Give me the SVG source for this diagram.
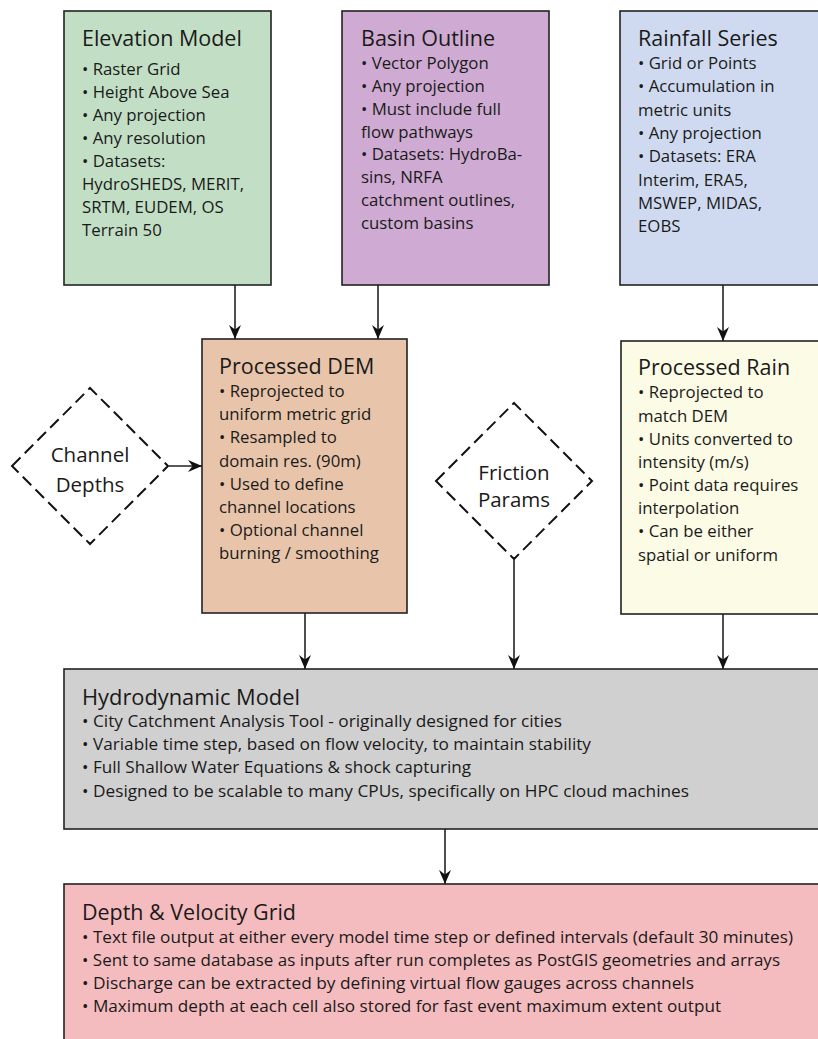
<svg xmlns="http://www.w3.org/2000/svg" width="818" height="1039" viewBox="0 0 818 1039">
  <style>
    .box { stroke: #222; stroke-width: 1.6; }
    .diamond { fill: #fff; stroke: #111; stroke-width: 2; stroke-dasharray: 12 6; }
    .title { font-family: "Open Sans", "Liberation Sans", sans-serif; font-size: 21.5px; fill: #1a1a1a; }
    .body { font-family: "Open Sans", "Liberation Sans", sans-serif; font-size: 16.8px; fill: #1a1a1a; }
    .small { font-family: "Open Sans", "Liberation Sans", sans-serif; font-size: 15.5px; fill: #1a1a1a; }
    .dlabel { font-family: "Open Sans", "Liberation Sans", sans-serif; font-size: 20.5px; fill: #1a1a1a; text-anchor: middle; }
    .conn { stroke: #222; stroke-width: 1.6; fill: none; marker-end: url(#arrow); }
  </style>
  <defs>
    <!-- barbed arrowhead shared by every connector -->
    <marker id="arrow" markerUnits="userSpaceOnUse" viewBox="0 0 14 12" refX="14" refY="6" markerWidth="14" markerHeight="12" orient="auto">
      <path d="M0,0 L14,6 L0,12 L4.5,6 z" fill="#111"/>
    </marker>
  </defs>
  <rect width="818" height="1039" fill="#fff"/>

  <g id="elevation-model">
    <rect class="box" x="64" y="11" width="207" height="274" fill="#c2dfc5"/>
    <text class="title" x="82" y="46">Elevation Model</text>
    <text class="body" x="82" y="75">• Raster Grid</text>
    <text class="body" x="82" y="98">• Height Above Sea</text>
    <text class="body" x="82" y="121">• Any projection</text>
    <text class="body" x="82" y="144">• Any resolution</text>
    <text class="body" x="82" y="167">• Datasets:</text>
    <text class="body" x="82" y="190">HydroSHEDS, MERIT,</text>
    <text class="body" x="82" y="213">SRTM, EUDEM, OS</text>
    <text class="body" x="82" y="236">Terrain 50</text>
  </g>

  <g id="basin-outline">
    <rect class="box" x="342" y="11" width="207" height="274" fill="#cfabd3"/>
    <text class="title" x="361" y="46">Basin Outline</text>
    <text class="body" x="361" y="69">• Vector Polygon</text>
    <text class="body" x="361" y="92">• Any projection</text>
    <text class="body" x="361" y="115">• Must include full</text>
    <text class="body" x="361" y="138">flow pathways</text>
    <text class="body" x="361" y="160">• Datasets: HydroBa-</text>
    <text class="body" x="361" y="183">sins, NRFA</text>
    <text class="body" x="361" y="206">catchment outlines,</text>
    <text class="body" x="361" y="229">custom basins</text>
  </g>

  <g id="rainfall-series">
    <rect class="box" x="620" y="11" width="220" height="274" fill="#cfdaf0"/>
    <text class="title" x="638" y="46">Rainfall Series</text>
    <text class="body" x="638" y="69">• Grid or Points</text>
    <text class="body" x="638" y="92">• Accumulation in</text>
    <text class="body" x="638" y="116">metric units</text>
    <text class="body" x="638" y="139">• Any projection</text>
    <text class="body" x="638" y="162">• Datasets: ERA</text>
    <text class="body" x="638" y="186">Interim, ERA5,</text>
    <text class="body" x="638" y="209">MSWEP, MIDAS,</text>
    <text class="body" x="638" y="232">EOBS</text>
  </g>

  <g id="processed-dem">
    <rect class="box" x="202" y="339" width="205" height="274" fill="#e8c5aa"/>
    <text class="title" x="219" y="374">Processed DEM</text>
    <text class="body" x="219" y="397">• Reprojected to</text>
    <text class="body" x="219" y="420">uniform metric grid</text>
    <text class="body" x="219" y="443">• Resampled to</text>
    <text class="body" x="219" y="467">domain res. (90m)</text>
    <text class="body" x="219" y="490">• Used to define</text>
    <text class="body" x="219" y="513">channel locations</text>
    <text class="body" x="219" y="536">• Optional channel</text>
    <text class="body" x="219" y="559">burning / smoothing</text>
  </g>

  <g id="processed-rain">
    <rect class="box" x="621" y="341" width="220" height="273" fill="#fcfbe5"/>
    <text class="title" x="638" y="375">Processed Rain</text>
    <text class="body" x="638" y="398">• Reprojected to</text>
    <text class="body" x="638" y="422">match DEM</text>
    <text class="body" x="638" y="445">• Units converted to</text>
    <text class="body" x="638" y="468">intensity (m/s)</text>
    <text class="body" x="638" y="491">• Point data requires</text>
    <text class="body" x="638" y="514">interpolation</text>
    <text class="body" x="638" y="537">• Can be either</text>
    <text class="body" x="638" y="561">spatial or uniform</text>
  </g>

  <g id="channel-depths">
    <polygon class="diamond" points="12,466 90,388 168,466 90,544"/>
    <text class="dlabel" x="90" y="462">Channel</text>
    <text class="dlabel" x="90" y="492">Depths</text>
  </g>

  <g id="friction-params">
    <polygon class="diamond" points="436,481 514,403 592,481 514,559"/>
    <text class="dlabel" x="514" y="480">Friction</text>
    <text class="dlabel" x="514" y="507">Params</text>
  </g>

  <g id="hydrodynamic-model">
    <rect class="box" x="64" y="669" width="780" height="160" fill="#d0d0d0"/>
    <text class="title" x="82" y="705" textLength="218" lengthAdjust="spacingAndGlyphs">Hydrodynamic Model</text>
    <text class="small" x="82" y="727" textLength="480" lengthAdjust="spacingAndGlyphs">• City Catchment Analysis Tool - originally designed for cities</text>
    <text class="small" x="82" y="750" textLength="509" lengthAdjust="spacingAndGlyphs">• Variable time step, based on flow velocity, to maintain stability</text>
    <text class="small" x="82" y="773" textLength="389" lengthAdjust="spacingAndGlyphs">• Full Shallow Water Equations &amp; shock capturing</text>
    <text class="small" x="82" y="797" textLength="607" lengthAdjust="spacingAndGlyphs">• Designed to be scalable to many CPUs, specifically on HPC cloud machines</text>
  </g>

  <g id="depth-velocity-grid">
    <rect class="box" x="64" y="884" width="780" height="170" fill="#f5bcbf"/>
    <text class="title" x="82" y="920" textLength="214" lengthAdjust="spacingAndGlyphs">Depth &amp; Velocity Grid</text>
    <text class="small" x="82" y="943" textLength="711" lengthAdjust="spacingAndGlyphs">• Text file output at either every model time step or defined intervals (default 30 minutes)</text>
    <text class="small" x="82" y="966" textLength="698" lengthAdjust="spacingAndGlyphs">• Sent to same database as inputs after run completes as PostGIS geometries and arrays</text>
    <text class="small" x="82" y="989" textLength="612" lengthAdjust="spacingAndGlyphs">• Discharge can be extracted by defining virtual flow gauges across channels</text>
    <text class="small" x="82" y="1012" textLength="639" lengthAdjust="spacingAndGlyphs">• Maximum depth at each cell also stored for fast event maximum extent output</text>
  </g>

  <g id="connectors">
    <line class="conn" x1="235" y1="285" x2="235" y2="339"/>
    <line class="conn" x1="378" y1="285" x2="378" y2="339"/>
    <line class="conn" x1="723" y1="285" x2="723" y2="341"/>
    <line class="conn" x1="169" y1="466" x2="202" y2="466"/>
    <line class="conn" x1="305" y1="613" x2="305" y2="669"/>
    <line class="conn" x1="514" y1="560" x2="514" y2="669"/>
    <line class="conn" x1="723" y1="614" x2="723" y2="669"/>
    <line class="conn" x1="445" y1="829" x2="445" y2="884"/>
  </g>
</svg>
